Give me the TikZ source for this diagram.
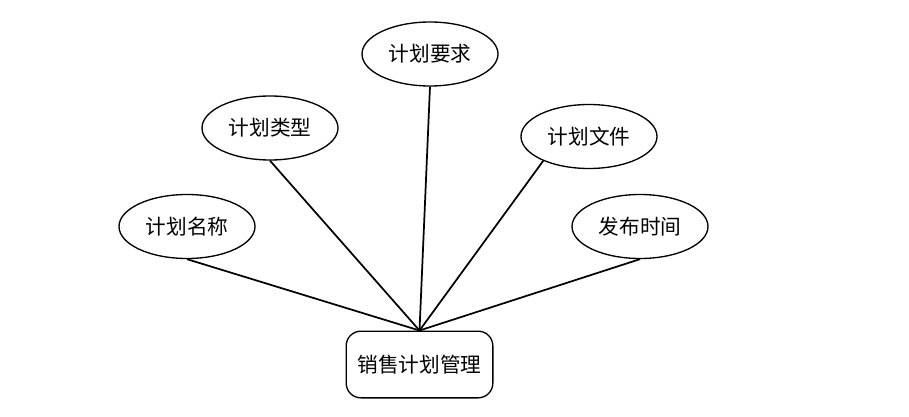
\documentclass[tikz,border=0pt]{standalone}
\usepackage{fontspec}
\newfontfamily\cjk{Noto Sans CJK SC}
\usetikzlibrary{shapes.geometric}

\begin{document}
\begin{tikzpicture}[x=0.75pt, y=-0.75pt,
  atributo/.style={ellipse, draw, line width=1pt, minimum width=102pt, minimum height=48pt, inner sep=0pt, font=\cjk\fontsize{15.5}{18}\selectfont},
  entidad/.style={rectangle, rounded corners=11pt, draw, line width=1pt, minimum width=110pt, minimum height=50pt, font=\cjk\fontsize{15.5}{18}\selectfont},
  enlace/.style={line width=1.3pt}]

\useasboundingbox (0,0) rectangle (909,417);

% Entidad
\node[entidad] (gestion) at (419.5,364.5) {销售计划管理};

% Atributos
\node[atributo] (nombre) at (187,226.5) {计划名称};
\node[atributo] (tipo) at (270,128) {计划类型};
\node[atributo] (requisito) at (430,54) {计划要求};
\node[atributo] (archivo) at (589,136.5) {计划文件};
\node[atributo] (fecha) at (640,226.5) {发布时间};

% Enlaces
\draw[enlace] (nombre.south) -- (gestion.north);
\draw[enlace] (tipo.south) -- (gestion.north);
\draw[enlace] (requisito.south) -- (gestion.north);
\draw[enlace] (archivo.208) -- (gestion.north);
\draw[enlace] (fecha.south) -- (gestion.north);

\end{tikzpicture}
\end{document}
